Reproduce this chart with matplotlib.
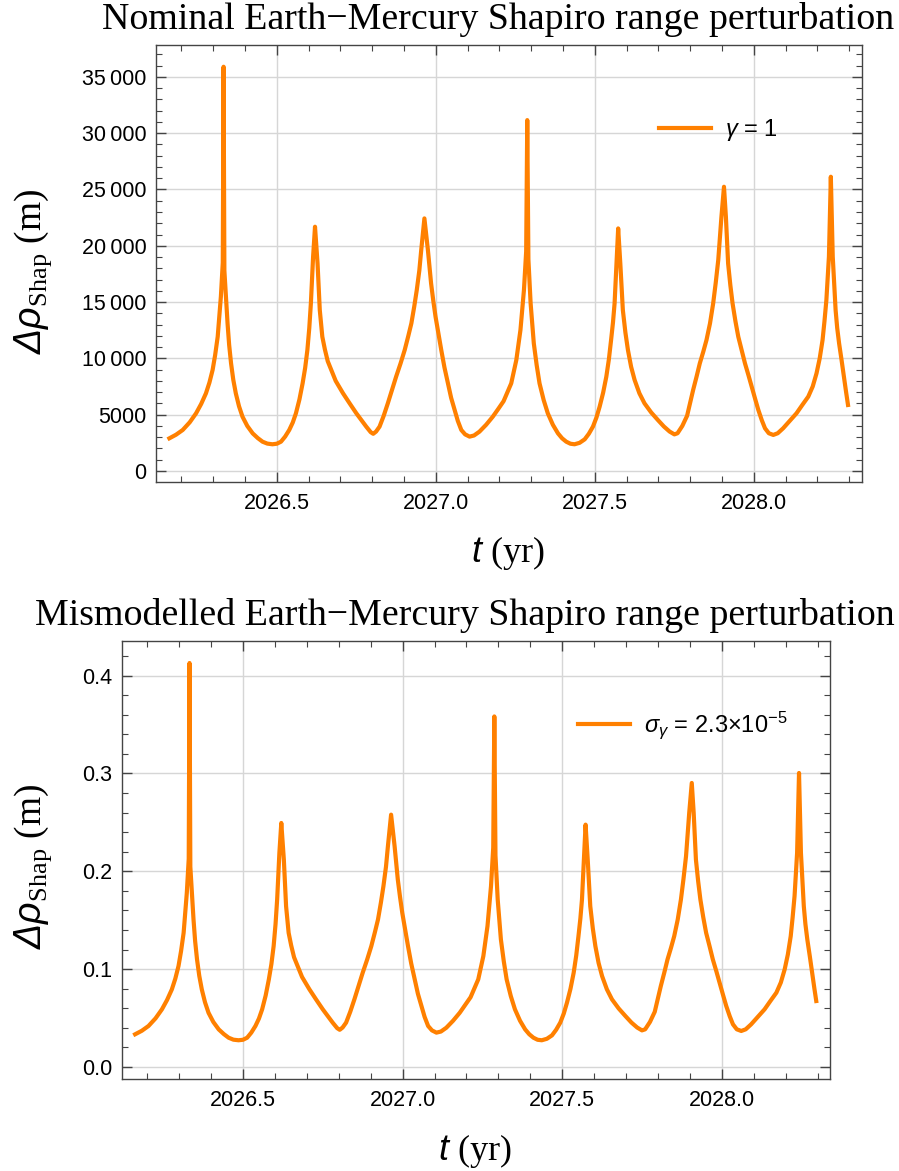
import matplotlib
matplotlib.use('Agg')
import matplotlib.pyplot as plt
from matplotlib.ticker import MultipleLocator, FuncFormatter

plt.rcParams['mathtext.fontset'] = 'custom'
plt.rcParams['mathtext.rm'] = 'Liberation Serif'
plt.rcParams['mathtext.sf'] = 'Liberation Sans:italic'
plt.rcParams['mathtext.it'] = 'Liberation Sans:italic'
plt.rcParams['mathtext.tt'] = 'Liberation Sans'
plt.rcParams['font.family'] = ['Liberation Sans', 'DejaVu Sans']

# time (yr)
t_yr = [2026.162, 2026.183, 2026.204, 2026.226, 2026.246, 2026.262, 2026.277, 2026.288,
        2026.298, 2026.306, 2026.314, 2026.324, 2026.330, 2026.3325, 2026.335, 2026.340,
        2026.345, 2026.350, 2026.356, 2026.363, 2026.371, 2026.381, 2026.392, 2026.407,
        2026.424, 2026.440, 2026.455, 2026.470, 2026.486, 2026.500, 2026.513, 2026.526,
        2026.539, 2026.550, 2026.560, 2026.571, 2026.581, 2026.589, 2026.596, 2026.602,
        2026.607, 2026.614, 2026.620, 2026.628, 2026.635, 2026.643, 2026.651, 2026.660,
        2026.685, 2026.708, 2026.729, 2026.750, 2026.781, 2026.795, 2026.803, 2026.812,
        2026.823, 2026.836, 2026.849, 2026.862, 2026.875, 2026.889, 2026.902, 2026.913,
        2026.923, 2026.932, 2026.940, 2026.948, 2026.954, 2026.964, 2026.975, 2026.985,
        2026.992, 2026.999, 2027.008, 2027.017, 2027.027, 2027.038, 2027.048, 2027.059,
        2027.069, 2027.080, 2027.092, 2027.106, 2027.120, 2027.137, 2027.158, 2027.179,
        2027.196, 2027.213, 2027.237, 2027.253, 2027.266, 2027.277, 2027.284, 2027.2874,
        2027.291, 2027.298, 2027.308, 2027.317, 2027.326, 2027.339, 2027.352, 2027.368,
        2027.384, 2027.397, 2027.410, 2027.423, 2027.436, 2027.452, 2027.468, 2027.481,
        2027.494, 2027.505, 2027.515, 2027.526, 2027.536, 2027.544, 2027.551, 2027.557,
        2027.562, 2027.568, 2027.5733, 2027.580, 2027.588, 2027.596, 2027.604, 2027.614,
        2027.625, 2027.640, 2027.656, 2027.677, 2027.698, 2027.717, 2027.735, 2027.750,
        2027.760, 2027.775, 2027.790, 2027.809, 2027.820, 2027.830, 2027.841, 2027.851,
        2027.862, 2027.872, 2027.880, 2027.888, 2027.898, 2027.906, 2027.912, 2027.919,
        2027.926, 2027.933, 2027.942, 2027.951, 2027.962, 2027.972, 2027.983, 2027.993,
        2028.004, 2028.014, 2028.025, 2028.035, 2028.047, 2028.061, 2028.075, 2028.092,
        2028.113, 2028.134, 2028.152, 2028.171, 2028.185, 2028.197, 2028.207, 2028.216,
        2028.222, 2028.228, 2028.236, 2028.242, 2028.248, 2028.257, 2028.262, 2028.268,
        2028.276, 2028.283, 2028.290, 2028.296]

# nominal shapiro range perturbation, gamma = 1 (m)
rho_nominal = [2900, 3220, 3640, 4320, 5120, 5950, 6890, 7850,
               8970, 10300, 11920, 15480, 18500, 35900, 17800, 15500,
               13100, 11200, 9560, 8100, 6890, 5750, 4820, 4000,
               3340, 2920, 2600, 2430, 2370, 2420, 2600, 3050,
               3640, 4300, 5120, 6350, 7780, 9150, 10740, 12700,
               14880, 19030, 21690, 18430, 14290, 11920, 10800, 9750,
               8000, 6900, 6000, 5120, 3940, 3450, 3300, 3500,
               3940, 4900, 6010, 7200, 8370, 9550, 10740, 11950,
               13110, 14600, 16070, 17800, 19620, 22430, 19620, 16660,
               15100, 13700, 12200, 10740, 9200, 7780, 6500, 5420,
               4450, 3640, 3250, 3050, 3150, 3490, 4100, 4820,
               5500, 6200, 7780, 9850, 12520, 16070, 19500, 31160,
               18800, 14880, 11330, 9400, 7780, 6300, 5120, 4100,
               3340, 2900, 2600, 2420, 2370, 2500, 2810, 3300,
               3940, 4750, 5710, 6950, 8370, 9900, 11630, 13200,
               14880, 18430, 21540, 18430, 14290, 12300, 10740, 9250,
               8080, 6900, 6010, 5200, 4530, 3950, 3500, 3250,
               3350, 4000, 4900, 7190, 8400, 9560, 10600, 11630,
               13100, 14880, 16700, 18730, 22580, 25240, 22580, 18430,
               16500, 14880, 13300, 11920, 10700, 9560, 8500, 7490,
               6400, 5420, 4500, 3790, 3350, 3200, 3350, 3790,
               4450, 5120, 5850, 6600, 7500, 8670, 10000, 11630,
               13300, 15180, 19030, 26130, 19030, 14290, 12700, 11330,
               9800, 8370, 7000, 5860]

# mismodelled perturbation, sigma_gamma = 2.3e-5 (m)
rho_mismod = [0.0334, 0.0370, 0.0419, 0.0497, 0.0589, 0.0684, 0.0792, 0.0903,
              0.1032, 0.1185, 0.1371, 0.1780, 0.2128, 0.4129, 0.2047, 0.1783,
              0.1507, 0.1288, 0.1099, 0.0932, 0.0792, 0.0661, 0.0554, 0.0460,
              0.0384, 0.0336, 0.0299, 0.0279, 0.0273, 0.0278, 0.0299, 0.0351,
              0.0419, 0.0495, 0.0589, 0.0730, 0.0895, 0.1052, 0.1235, 0.1461,
              0.1711, 0.2188, 0.2494, 0.2119, 0.1643, 0.1371, 0.1242, 0.1121,
              0.0920, 0.0794, 0.0690, 0.0589, 0.0453, 0.0397, 0.0380, 0.0403,
              0.0453, 0.0564, 0.0691, 0.0828, 0.0963, 0.1098, 0.1235, 0.1374,
              0.1508, 0.1679, 0.1848, 0.2047, 0.2256, 0.2579, 0.2256, 0.1916,
              0.1737, 0.1576, 0.1403, 0.1235, 0.1058, 0.0895, 0.0748, 0.0623,
              0.0512, 0.0419, 0.0374, 0.0351, 0.0362, 0.0401, 0.0472, 0.0554,
              0.0633, 0.0713, 0.0895, 0.1133, 0.1440, 0.1848, 0.2243, 0.3583,
              0.2162, 0.1711, 0.1303, 0.1081, 0.0895, 0.0725, 0.0589, 0.0472,
              0.0384, 0.0334, 0.0299, 0.0278, 0.0273, 0.0288, 0.0323, 0.0380,
              0.0453, 0.0546, 0.0657, 0.0799, 0.0963, 0.1139, 0.1337, 0.1518,
              0.1711, 0.2119, 0.2477, 0.2119, 0.1643, 0.1415, 0.1235, 0.1064,
              0.0929, 0.0794, 0.0691, 0.0598, 0.0521, 0.0454, 0.0403, 0.0374,
              0.0385, 0.0460, 0.0564, 0.0827, 0.0966, 0.1099, 0.1219, 0.1337,
              0.1507, 0.1711, 0.1921, 0.2154, 0.2597, 0.2903, 0.2597, 0.2119,
              0.1898, 0.1711, 0.1530, 0.1371, 0.1231, 0.1099, 0.0978, 0.0861,
              0.0736, 0.0623, 0.0518, 0.0436, 0.0385, 0.0368, 0.0385, 0.0436,
              0.0512, 0.0589, 0.0673, 0.0759, 0.0863, 0.0997, 0.1150, 0.1337,
              0.1530, 0.1746, 0.2188, 0.3005, 0.2188, 0.1643, 0.1461, 0.1303,
              0.1127, 0.0963, 0.0805, 0.0674]

x_major = [2026.5, 2027.0, 2027.5, 2028.0]

W, H = 899, 1171
orange = '#ff8000'
frame = '#444444'
gridc = '#d6d6d6'


def thousands(v, pos):
    v = int(round(v))
    if abs(v) >= 10000:
        return f'{v // 1000}\u2009{v % 1000:03d}'
    return str(v)


def style_axes(ax):
    for s in ax.spines.values():
        s.set_color(frame)
        s.set_linewidth(1.0)
    ax.tick_params(which='both', direction='in', top=True, right=True,
                   colors=frame, labelcolor='black', labelsize=15.5)
    ax.tick_params(which='major', length=7, width=1.0)
    ax.tick_params(which='minor', length=4.5, width=0.8)
    ax.tick_params(axis='y', pad=7)
    ax.tick_params(axis='x', pad=8)
    ax.set_xticks(x_major)
    ax.xaxis.set_major_formatter(FuncFormatter(lambda v, p: f'{v:.1f}'))
    ax.xaxis.set_minor_locator(MultipleLocator(0.1))
    ax.grid(True, which='major', color=gridc, lw=1.0)
    ax.set_axisbelow(True)
    ax.set_xlim(2026.12, 2028.34)


fig = plt.figure(figsize=(W / 100, H / 100), dpi=100)

# top panel
ax1 = fig.add_axes([156 / W, 1 - 482 / H, 706 / W, 437 / H])
ax1.plot(t_yr, rho_nominal, color=orange, lw=3, solid_joinstyle='round',
         label=r'$\mathsf{\gamma}$ = 1')
style_axes(ax1)
ax1.set_ylim(-980, 37830)
ax1.yaxis.set_major_locator(MultipleLocator(5000))
ax1.yaxis.set_minor_locator(MultipleLocator(1000))
ax1.yaxis.set_major_formatter(FuncFormatter(thousands))
ax1.legend(loc='center left', bbox_to_anchor=(659 / W, 1 - 130 / H),
           bbox_transform=fig.transFigure, frameon=False, fontsize=17,
           handlelength=2.2, handletextpad=0.6, borderpad=0, borderaxespad=0)

# bottom panel
ax2 = fig.add_axes([121.7 / W, 1 - 1079.3 / H, 708.6 / W, 438.3 / H])
ax2.plot(t_yr, rho_mismod, color=orange, lw=3, solid_joinstyle='round',
         label=r'$\mathsf{\sigma}_{\mathsf{\gamma}}$ = 2.3×10$^{\mathtt{-5}}$')
style_axes(ax2)
ax2.set_ylim(-0.0126, 0.4354)
ax2.yaxis.set_major_locator(MultipleLocator(0.1))
ax2.yaxis.set_minor_locator(MultipleLocator(0.02))
ax2.yaxis.set_major_formatter(FuncFormatter(lambda v, p: f'{v:.1f}'))
ax2.legend(loc='center left', bbox_to_anchor=(578 / W, 1 - 725 / H),
           bbox_transform=fig.transFigure, frameon=False, fontsize=17,
           handlelength=2.2, handletextpad=0.6, borderpad=0, borderaxespad=0)

# titles and axis labels
serif = ['Liberation Serif', 'DejaVu Serif']
fig.text(498 / W, 1 - 29 / H, 'Nominal Earth\u2212Mercury Shapiro range perturbation',
         ha='center', va='baseline', fontsize=27.3, family=serif)
fig.text(465 / W, 1 - 625 / H, 'Mismodelled Earth\u2212Mercury Shapiro range perturbation',
         ha='center', va='baseline', fontsize=27.3, family=serif)

ylab = r'$\mathsf{\Delta\rho}_{\mathrm{Shap}}$ (m)'
xlab = r'$\mathsf{t}$ (yr)'
fig.text(12 / W, 1 - 271 / H, ylab, rotation=90, ha='left', va='center',
         fontsize=27, family=serif)
fig.text(12 / W, 1 - 866 / H, ylab, rotation=90, ha='left', va='center',
         fontsize=27, family=serif)
fig.text(508 / W, 1 - 562 / H, xlab, ha='center', va='baseline',
         fontsize=26, family=serif)
fig.text(475 / W, 1 - 1160 / H, xlab, ha='center', va='baseline',
         fontsize=26, family=serif)

fig.savefig('out.png', dpi=100)
